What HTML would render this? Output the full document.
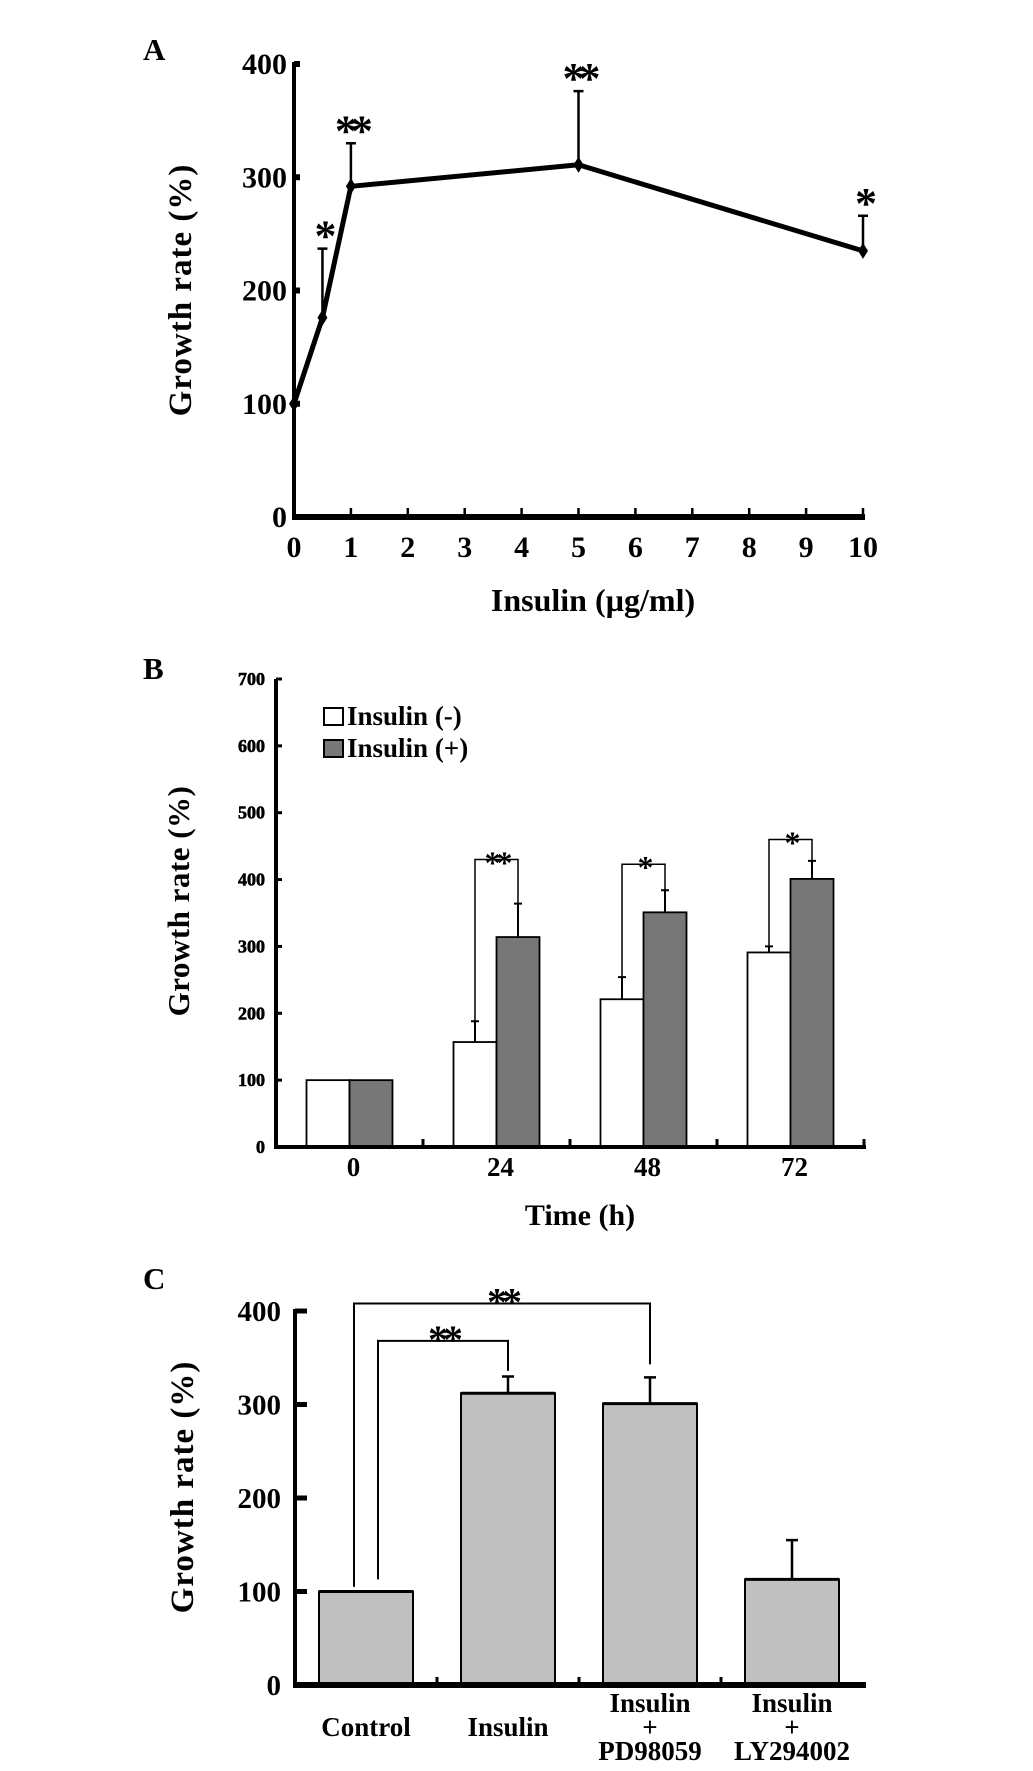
<!DOCTYPE html>
<html><head><meta charset="utf-8"><style>
html,body{margin:0;padding:0;background:#fff;}
svg{display:block;font-family:"Liberation Serif",serif;font-weight:bold;}
</style></head><body>
<svg id="fig" width="1033" height="1771" viewBox="0 0 1033 1771" xmlns="http://www.w3.org/2000/svg">
<rect width="1033" height="1771" fill="#fff"/>
<g id="pa"></g>
<g id="pb"></g>
<g id="pc"></g>
</svg>
<script>
// Panel A data
const aDoses = [0, 0.5, 1, 5, 10];
const aValues = [100, 176, 292, 311, 235];
const aErrors = [0, 61, 38, 65, 31];
const aStars = ["", "*", "**", "**", "*"];
const aYTicks = [0, 100, 200, 300, 400];
const aXTicks = [0,1,2,3,4,5,6,7,8,9,10];
// Panel B data
const bCategories = ["0", "24", "48", "72"];
const bMinus = [100, 157, 221, 291];
const bMinusErr = [0, 31, 33, 9];
const bPlus = [100, 314, 351, 401];
const bPlusErr = [0, 50, 33, 27];
const bBracket = [null, 430, 423, 460];
const bStars = ["", "**", "*", "*"];
const bYTicks = [0,100,200,300,400,500,600,700];
// Panel C data
const cCategories = [["Control"], ["Insulin"], ["Insulin","+","PD98059"], ["Insulin","+","LY294002"]];
const cValues = [100, 312, 301, 113];
const cErrors = [0, 18, 28, 42];
const cYTicks = [0,100,200,300,400];
const cBrackets = [{from:0,to:1,y:368,fromY:113,toY:336,off:12},{from:0,to:2,y:408,fromY:105,toY:343,off:-12}];

const NS="http://www.w3.org/2000/svg";
function mk(parent, tag, attrs, text){
  const e=document.createElementNS(NS,tag);
  for(const k in attrs) e.setAttribute(k,attrs[k]);
  if(text!==undefined) e.textContent=text;
  parent.appendChild(e); return e;
}

// ---------- Panel A ----------
(function(){
  const g=document.getElementById('pa');
  const x0=294,x1=863,y0=517,yTop=64;
  const xs=v=>x0+(x1-x0)*v/10;
  const ys=v=>y0-(y0-yTop)*v/400;
  let t=mk(g,'text',{x:143,y:60,'font-size':31});t.textContent='A';
  
  
  let ax=mk(g,'line',{x1:x0,y1:y0+3,x2:x0,y2:yTop-2,stroke:'#000','stroke-width':4});
  
  
  ax=mk(g,'line',{x1:x0-2,y1:y0,x2:x1+2,y2:y0,stroke:'#000','stroke-width':6});
  
  
  aYTicks.forEach(v=>{
    const tk=mk(g,'rect',{x:x0,y:ys(v)-3,width:6,height:6,fill:'#000'});
    
    
    const l=mk(g,'text',{x:287,y:ys(v)+10,'text-anchor':'end','font-size':30},String(v));
    
    
  });
  aXTicks.forEach(v=>{
    const tk=mk(g,'line',{x1:xs(v),y1:y0,x2:xs(v),y2:y0-9,stroke:'#000','stroke-width':2.5});
    
    
    const l=mk(g,'text',{x:xs(v),y:557,'text-anchor':'middle','font-size':30},String(v));
    
    
  });
  t=mk(g,'text',{x:593,y:611,'text-anchor':'middle','font-size':32},'Insulin (µg/ml)');
  
  
  t=mk(g,'text',{x:0,y:0,'text-anchor':'middle','font-size':33,'letter-spacing':1,transform:'translate(191,290) rotate(-90)'},'Growth rate (%)');
  
  
  // error bars
  aDoses.forEach((d,i)=>{
    if(!aErrors[i]) return;
    const e=mk(g,'path',{d:`M${xs(d)},${ys(aValues[i])} V${ys(aValues[i]+aErrors[i])} M${xs(d)-5},${ys(aValues[i]+aErrors[i])} H${xs(d)+5}`,stroke:'#000','stroke-width':2.5,fill:'none'});
    
    
  });
  const pts=aDoses.map((d,i)=>xs(d)+','+ys(aValues[i])).join(' ');
  const ln=mk(g,'polyline',{points:pts,fill:'none',stroke:'#000','stroke-width':5,'stroke-linejoin':'round'});
  
  
  aDoses.forEach((d,i)=>{
    const cx=xs(d),cy=ys(aValues[i]);
    const m=mk(g,'path',{d:`M${cx},${cy-8} L${cx+5},${cy} L${cx},${cy+8} L${cx-5},${cy} Z`,fill:'#000'});
    
    
    if(aStars[i]){
      const s=mk(g,'text',{x:cx,y:ys(aValues[i]+aErrors[i])-18+20,'text-anchor':'middle','font-size':44,'letter-spacing':-6},aStars[i]);
      
      
    }
  });
})();

// ---------- Panel B ----------
(function(){
  const g=document.getElementById('pb');
  const x0=276,gw=147,y0=1147,yTop=679,bw=43;
  const ys=v=>y0-(y0-yTop)*v/700;
  let t=mk(g,'text',{x:143,y:679,'font-size':31},'B');
  
  
  bYTicks.forEach(v=>{
    const tk=mk(g,'line',{x1:x0,y1:ys(v),x2:x0+6,y2:ys(v),stroke:'#000','stroke-width':3});
    
    
    const l=mk(g,'text',{x:265,y:ys(v)+6,'text-anchor':'end','font-size':18,stroke:'#000','stroke-width':0.6},String(v));
    
    
  });
  bCategories.forEach((c,i)=>{
    const cx=x0+gw*(i+0.5);
    const vals=[[bMinus[i],bMinusErr[i],'#fff','b-bar-insulin-minus'],[bPlus[i],bPlusErr[i],'#777','b-bar-insulin-plus']];
    vals.forEach((vv,j)=>{
      const bx=cx-bw+j*bw;
      const r=mk(g,'rect',{x:bx,y:ys(vv[0]),width:bw,height:y0-ys(vv[0]),fill:vv[2],stroke:'#000','stroke-width':1.8});
      
      
      if(vv[1]){
        const ex=bx+bw/2;
        const e=mk(g,'path',{d:`M${ex},${ys(vv[0])} V${ys(vv[0]+vv[1])} M${ex-4},${ys(vv[0]+vv[1])} H${ex+4}`,stroke:'#000','stroke-width':2,fill:'none'});
        
        
      }
    });
    if(bBracket[i]!==null){
      const lx=cx-bw/2,rx=cx+bw/2,by=ys(bBracket[i]);
      const br=mk(g,'path',{d:`M${lx},${ys(bMinus[i]+bMinusErr[i])} V${by} H${rx} V${ys(bPlus[i]+bPlusErr[i])}`,stroke:'#000','stroke-width':1.5,fill:'none'});
      
      
      const s=mk(g,'text',{x:cx,y:by+14,'text-anchor':'middle','font-size':32,'letter-spacing':-4},bStars[i]);
      
      
    }
    const tk=mk(g,'line',{x1:x0+gw*(i+1),y1:y0,x2:x0+gw*(i+1),y2:y0-8,stroke:'#000','stroke-width':3});
    
    
    const l=mk(g,'text',{x:cx+4,y:1176,'text-anchor':'middle','font-size':27},c);
    
    
  });
  let ax=mk(g,'line',{x1:x0,y1:y0+2,x2:x0,y2:yTop,stroke:'#000','stroke-width':4});
  
  
  ax=mk(g,'line',{x1:x0-2,y1:y0,x2:x0+gw*4+2,y2:y0,stroke:'#000','stroke-width':4});
  
  
  t=mk(g,'text',{x:580,y:1225,'text-anchor':'middle','font-size':30},'Time (h)');
  
  
  t=mk(g,'text',{x:0,y:0,'text-anchor':'middle','font-size':31,'letter-spacing':0.5,transform:'translate(189,901) rotate(-90)'},'Growth rate (%)');
  
  
  // legend
  let lb=mk(g,'rect',{x:324,y:708,width:19,height:17,fill:'#fff',stroke:'#000','stroke-width':2});
  
  
  t=mk(g,'text',{x:347,y:725,'font-size':27},'Insulin (-)');
  
  
  lb=mk(g,'rect',{x:324,y:740,width:19,height:17,fill:'#777',stroke:'#000','stroke-width':2});
  
  
  t=mk(g,'text',{x:347,y:757,'font-size':27},'Insulin (+)');
  
  
})();

// ---------- Panel C ----------
(function(){
  const g=document.getElementById('pc');
  const x0=295,gw=142,y0=1685,yTop=1311,bw=94;
  const ys=v=>y0-(y0-yTop)*v/400;
  const cxOf=i=>x0+gw*(i+0.5);
  let t=mk(g,'text',{x:143,y:1289,'font-size':31},'C');
  
  
  cYTicks.forEach(v=>{
    const tk=mk(g,'rect',{x:x0,y:ys(v)-2.5,width:12,height:5,fill:'#000'});
    
    
    const l=mk(g,'text',{x:281,y:ys(v)+10,'text-anchor':'end','font-size':29},String(v));
    
    
  });
  cValues.forEach((v,i)=>{
    const cx=cxOf(i);
    const r=mk(g,'rect',{x:cx-bw/2,y:ys(v),width:bw,height:y0-ys(v),fill:'#c0c0c0',stroke:'#000','stroke-width':2});
    
    
    const top=mk(g,'line',{x1:cx-bw/2,y1:ys(v),x2:cx+bw/2,y2:ys(v),stroke:'#000','stroke-width':3});
    
    
    if(cErrors[i]){
      const e=mk(g,'path',{d:`M${cx},${ys(v)} V${ys(v+cErrors[i])} M${cx-6},${ys(v+cErrors[i])} H${cx+6}`,stroke:'#000','stroke-width':2.5,fill:'none'});
      
      
    }
    if(i<3){
      const tk=mk(g,'line',{x1:x0+gw*(i+1),y1:y0,x2:x0+gw*(i+1),y2:y0-8,stroke:'#000','stroke-width':3});
      
      
    }
    const lines=cCategories[i];
    const baseY=lines.length===1?1736:1712;
    lines.forEach((s,k)=>{
      const l=mk(g,'text',{x:cx,y:baseY+k*24,'text-anchor':'middle','font-size':27},s);
      
      
    });
  });
  cBrackets.forEach(b=>{
    const lx=cxOf(b.from)+b.off,rx=cxOf(b.to);
    const br=mk(g,'path',{d:`M${lx},${ys(b.fromY)} V${ys(b.y)} H${rx} V${ys(b.toY)}`,stroke:'#000','stroke-width':2,fill:'none'});
    
    
    const s=mk(g,'text',{x:(lx+rx)/2,y:ys(b.y)+12,'text-anchor':'middle','font-size':40,'letter-spacing':-5},'**');
    
    
  });
  let ax=mk(g,'line',{x1:x0,y1:y0+3,x2:x0,y2:yTop-2,stroke:'#000','stroke-width':4});
  
  
  ax=mk(g,'line',{x1:x0-2,y1:y0,x2:x0+gw*4+3,y2:y0,stroke:'#000','stroke-width':6});
  
  
  t=mk(g,'text',{x:0,y:0,'text-anchor':'middle','font-size':33,'letter-spacing':1,transform:'translate(193,1487) rotate(-90)'},'Growth rate (%)');
  
  
})();
</script>
</body></html>
